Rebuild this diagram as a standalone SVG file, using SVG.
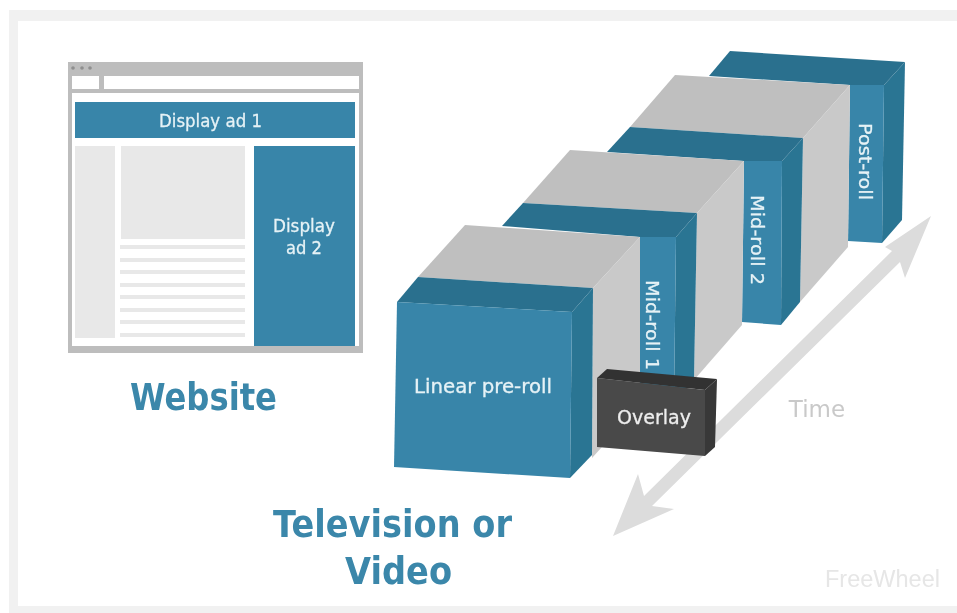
<svg xmlns="http://www.w3.org/2000/svg" width="957" height="613" viewBox="0 0 957 613">
<defs><filter id="soft" x="0" y="0" width="100%" height="100%"><feGaussianBlur stdDeviation="0.55"/></filter></defs>
<style>
.ff{font-family:"DejaVu Sans","Liberation Sans",sans-serif}
.lbl{font-family:"DejaVu Sans","Liberation Sans",sans-serif;font-size:18px;fill:#e6f2f6;stroke:#e6f2f6;stroke-width:.3px;text-anchor:middle}
.big{font-size:19.5px}
.v{font-size:18.5px;text-anchor:start}
.h{font-family:"DejaVu Sans","Liberation Sans",sans-serif;font-weight:700;font-size:37px;fill:#3b87aa;text-anchor:middle}
.f{fill:#3785a9}.t{fill:#29708e}.s{fill:#2b7493}.gt{fill:#bfbfbf}.gs{fill:#c9c9c9}
.lg{fill:#e8e8e8}
</style>
<rect width="957" height="613" fill="#fff"/>
<g filter="url(#soft)">
<rect x="9" y="10" width="948" height="603" fill="#f1f1f1"/>
<rect x="18" y="21" width="939" height="585" fill="#fff"/>
<g id="website">
<rect x="68" y="62" width="295" height="291" fill="#bdbdbd"/>
<rect x="72" y="76" width="27" height="13" fill="#fff"/>
<rect x="104" y="76" width="255" height="13" fill="#fff"/>
<rect x="72" y="93" width="287" height="253" fill="#fff"/>
<circle cx="73" cy="68" r="1.8" fill="#8f8f8f"/><circle cx="82" cy="68" r="1.8" fill="#8f8f8f"/><circle cx="90" cy="68" r="1.8" fill="#8f8f8f"/>
<rect class="lg" x="75" y="146" width="40" height="192"/>
<rect class="lg" x="121" y="146" width="124" height="93"/>
<g class="lg">
<rect x="120" y="245" width="125" height="4"/><rect x="120" y="258" width="125" height="4"/><rect x="120" y="270" width="125" height="4"/><rect x="120" y="283" width="125" height="4"/><rect x="120" y="295" width="125" height="4"/><rect x="120" y="308" width="125" height="4"/><rect x="120" y="320" width="125" height="4"/><rect x="120" y="333" width="125" height="4"/>
</g>
</g>
<g id="display-ad-1"><rect class="f" x="75" y="102" width="280" height="36"/><text class="lbl" x="210.500" y="127" textLength="103" lengthAdjust="spacingAndGlyphs">Display ad 1</text></g>
<g id="display-ad-2"><rect class="f" x="254" y="146" width="101" height="200"/><text class="lbl" x="304" y="232" textLength="62" lengthAdjust="spacingAndGlyphs">Display</text><text class="lbl" x="304" y="254" textLength="36" lengthAdjust="spacingAndGlyphs">ad 2</text></g>
<text id="website-title" class="h" x="203.500" y="410" textLength="147" lengthAdjust="spacingAndGlyphs">Website</text>
<g id="connectors">
<path fill="#dcdcdc" d="M931 216L905 278L900 262L652 506L674 509L613 536L638 474L644 496L892 251L885 247Z"/>
</g>
<g id="post-roll">
<path class="t" d="M709 76L730 51L905 62L884 85L850 85Z"/>
<path class="s" d="M884 85L905 62L902 220L882 243Z"/>
<path class="f" d="M850 85H884L882 243L848 241Z"/>
<text class="lbl v" transform="translate(859 123) rotate(90)" textLength="77" lengthAdjust="spacingAndGlyphs">Post-roll</text>
</g>
<g id="content-3">
<path class="gt" d="M630 127L675 75L850 85L803 138Z"/>
<path class="gs" d="M803 138L850 85L848 247L800 302Z"/>
</g>
<g id="mid-roll-2">
<path class="t" d="M607 152L630 127L803 138L782 161L744 161Z"/>
<path class="s" d="M782 161L803 138L800 302L781 325Z"/>
<path class="f" d="M744 161H782L781 325L742 322Z"/>
<text class="lbl v" transform="translate(751 195) rotate(90)" textLength="90" lengthAdjust="spacingAndGlyphs">Mid-roll 2</text>
</g>
<g id="content-2">
<path class="gt" d="M523 203L570 150L744 161L697 213Z"/>
<path class="gs" d="M697 213L744 161L742 325L694 380Z"/>
</g>
<g id="mid-roll-1">
<path class="t" d="M502 226L523 203L697 213L676 237L640 237Z"/>
<path class="s" d="M676 237L697 213L694 380L674 403Z"/>
<path class="f" d="M640 237H676L674 403L640 400Z"/>
<text class="lbl v" transform="translate(646 280) rotate(90)" textLength="90" lengthAdjust="spacingAndGlyphs">Mid-roll 1</text>
</g>
<g id="content-1">
<path class="gt" d="M418 277L465 225L640 237L593 288Z"/>
<path class="gs" d="M593 288L640 237V405L592 458Z"/>
</g>
<g id="linear-pre-roll">
<path class="t" d="M397 302L418 277L593 288L572 312Z"/>
<path class="s" d="M572 312L593 288L592 455L570 478Z"/>
<path class="f" d="M397 302L572 312L570 478L394 467Z"/>
<text class="lbl big" x="483" y="393" textLength="138" lengthAdjust="spacingAndGlyphs">Linear pre-roll</text>
</g>
<g id="overlay">
<path fill="#333" d="M597 378L607 369L717 379L705 390Z"/>
<path fill="#383838" d="M705 390L717 379L715 447L705 456Z"/>
<path fill="#484848" d="M597 378L705 390V456L597 447Z"/>
<text class="lbl big" x="654" y="424" textLength="74" lengthAdjust="spacingAndGlyphs" style="fill:#eee;stroke:#eee">Overlay</text>
</g>
<text id="tv-title-1" class="h" x="392.500" y="537" textLength="239" lengthAdjust="spacingAndGlyphs">Television or</text>
<text id="tv-title-2" class="h" x="398.500" y="584" textLength="107" lengthAdjust="spacingAndGlyphs">Video</text>
<text id="time" class="ff" x="817" y="417" font-size="23" fill="#c9c9c9" text-anchor="middle">Time</text>
<text id="logo" x="825" y="587" font-family="Liberation Sans, sans-serif" font-size="23.500" fill="#e6e6e6">FreeWheel</text>
</g>
</svg>
